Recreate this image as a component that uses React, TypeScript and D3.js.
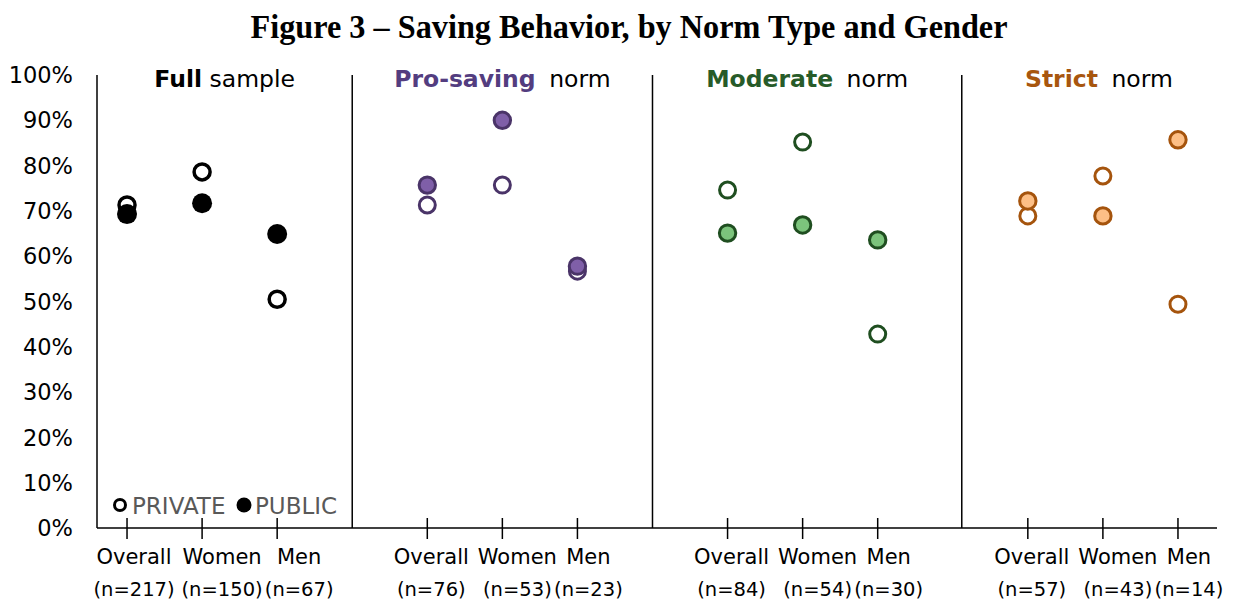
import React from "react";
import * as d3 from "d3";

// values (percent saving)
const panelNames = ["Full", "Pro-saving", "Moderate", "Strict"];
const panelSuffix = ["sample", "norm", "norm", "norm"];
const groups = ["Overall", "Women", "Men"];
const sampleSizes = [
  [217, 150, 67],
  [76, 53, 23],
  [84, 54, 30],
  [57, 43, 14],
];
const privateValues = [
  [71.3, 78.6, 50.5],
  [71.3, 75.7, 56.7],
  [74.6, 85.2, 42.8],
  [68.9, 77.7, 49.4],
];
const publicValues = [
  [69.3, 71.7, 64.9],
  [75.7, 90.0, 57.8],
  [65.1, 66.9, 63.6],
  [72.2, 68.9, 85.7],
];
const yTicks = [0, 10, 20, 30, 40, 50, 60, 70, 80, 90, 100];
const dividers = [4, 8, 12.12];

const strokeColors = ["#000000", "#4a3468", "#1f4e20", "#a5540d"];
const fillColors = ["#000000", "#7f5fa8", "#7cc47c", "#fdbf86"];
const headColors = ["#000000", "#533d7f", "#275b29", "#a8560e"];

const W = 1254;
const H = 604;
const FONT = "'DejaVu Sans', Verdana, sans-serif";

export default function App() {
  const x = d3.scaleLinear().domain([0.6, 15.52]).range([97, 1217]);
  const y = d3.scaleLinear().domain([0, 100]).range([528, 75]);
  const pos = (p: number, g: number) => p * 4 + g + 1;
  const bounds = [0.6, ...dividers, 15.52];
  // labels sit a little right of their ticks, like the original text boxes
  const labelShift = (p: number, i: number) =>
    p === 0 ? [7, 20, 22][i] : [4, 15, 11][i];
  // header centre: middle of the panel, last one over its middle category
  const headX = (p: number) =>
    p === 3 ? x(pos(p, 1)) - 4 : (x(bounds[p]) + x(bounds[p + 1])) / 2;

  return (
    <svg
      width={W}
      height={H}
      style={{ position: "absolute", left: 0, top: 0, background: "#fff" }}
    >
      <text
        x={629}
        y={38}
        textAnchor="middle"
        fontFamily="'Liberation Serif', 'Times New Roman', serif"
        fontWeight="bold"
        fontSize={33}
        textLength={757}
        lengthAdjust="spacingAndGlyphs"
      >
        Figure 3 – Saving Behavior, by Norm Type and Gender
      </text>

      {/* y axis labels */}
      {yTicks.map((t) => (
        <text
          key={t}
          x={73}
          y={y(t)}
          dy="0.36em"
          textAnchor="end"
          fontFamily={FONT}
          fontSize={22.5}
          fill="#000"
        >
          {t}%
        </text>
      ))}

      {/* frame */}
      <line x1={x(0.6)} x2={x(0.6)} y1={y(100)} y2={y(0)} stroke="#000" strokeWidth={1.5} />
      <line x1={x(0.6)} x2={x(15.52)} y1={y(0)} y2={y(0)} stroke="#000" strokeWidth={1.5} />
      {dividers.map((d) => (
        <line key={d} x1={x(d)} x2={x(d)} y1={y(100)} y2={y(0)} stroke="#000" strokeWidth={1.5} />
      ))}

      {panelNames.map((name, p) => (
        <g key={name}>
          <text x={headX(p)} y={87} textAnchor="middle" fontFamily={FONT} fontSize={23.5}>
            <tspan fontWeight="bold" fill={headColors[p]}>{name}</tspan>
            <tspan fill="#000" dx={p === 0 ? 0 : 6}>{" " + panelSuffix[p]}</tspan>
          </text>
          {groups.map((g, i) => {
            const px = x(pos(p, i));
            const lx = px + labelShift(p, i);
            return (
              <g key={g}>
                <line x1={px} x2={px} y1={y(0) - 10} y2={y(0) + 11} stroke="#000" strokeWidth={1.5} />
                <text x={lx} y={564} textAnchor="middle" fontFamily={FONT} fontSize={21}>
                  {g}
                </text>
                <text x={lx} y={596} textAnchor="middle" fontFamily={FONT} fontSize={19.5}>
                  (n={sampleSizes[p][i]})
                </text>
              </g>
            );
          })}
          {groups.map((g, i) => (
            <circle
              key={"pr" + g}
              cx={x(pos(p, i))}
              cy={y(privateValues[p][i])}
              r={8}
              fill="#fff"
              stroke={strokeColors[p]}
              strokeWidth={p === 0 ? 3.5 : 3}
            />
          ))}
          {groups.map((g, i) => (
            <circle
              key={"pu" + g}
              cx={x(pos(p, i))}
              cy={y(publicValues[p][i])}
              r={p === 0 ? 10 : 8.2}
              fill={fillColors[p]}
              stroke={strokeColors[p]}
              strokeWidth={p === 0 ? 0 : 3}
            />
          ))}
        </g>
      ))}

      {/* legend */}
      <circle cx={120} cy={505} r={5.5} fill="#fff" stroke="#000" strokeWidth={3} />
      <text x={132} y={514} fontFamily={FONT} fontSize={23} fill="#595959">PRIVATE</text>
      <circle cx={244} cy={505} r={7.5} fill="#000" />
      <text x={255} y={514} fontFamily={FONT} fontSize={23} fill="#595959">PUBLIC</text>
    </svg>
  );
}
